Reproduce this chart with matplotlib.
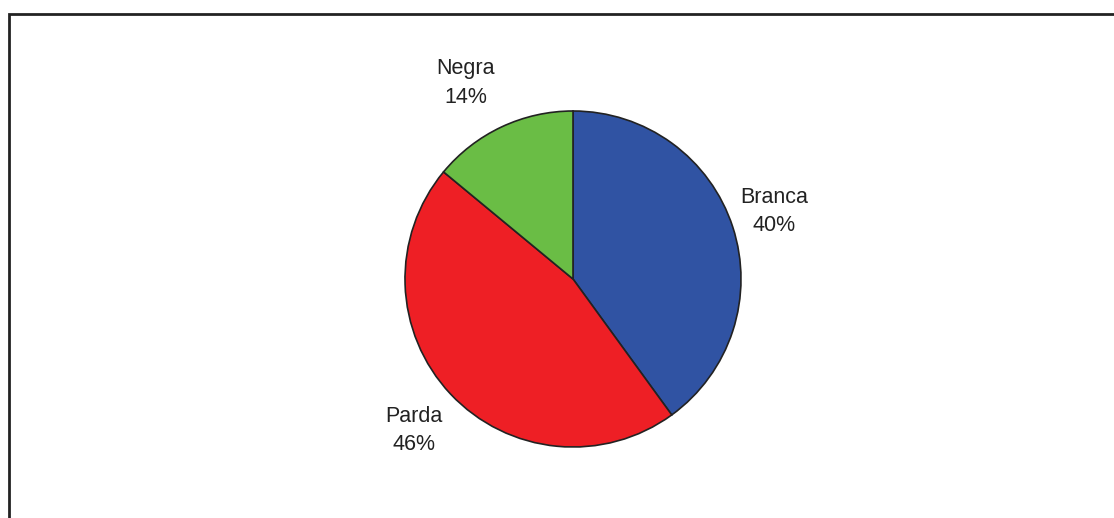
import matplotlib.pyplot as plt
from matplotlib.patches import Rectangle

plt.rcParams['font.family'] = ['Liberation Sans', 'DejaVu Sans']

categories = ["Branca", "Parda", "Negra"]
shares = [40, 46, 14]
colors = ["#3053A3", "#EE1F25", "#6ABD45"]

W, H = 1114, 518
fig = plt.figure(figsize=(W / 100, H / 100), dpi=100)

# outer frame (runs off the right and bottom edges)
fig.patches.append(Rectangle((9 / W, -0.1), 1.2, (H - 14) / H + 0.1,
                             transform=fig.transFigure, fill=False,
                             edgecolor="#222222", linewidth=2))

cx, cy, r = 573, 279, 168
ax = fig.add_axes([(cx - r) / W, (H - cy - r) / H, 2 * r / W, 2 * r / H])
ax.pie(shares, colors=colors, startangle=90, counterclock=False,
       wedgeprops=dict(edgecolor="#222222", linewidth=1.2))
ax.set_xlim(-1, 1)
ax.set_ylim(-1, 1)
ax.set_aspect("equal")

# label spots, in pie radius units
label_xy = [(1.196, 0.40), (-0.946, -0.90), (-0.637, 1.167)]
for name, val, (x, y) in zip(categories, shares, label_xy):
    ax.text(x, y, f"{name}\n{val}%", ha="center", va="center",
            fontsize=15.5, color="#222222", linespacing=1.45, clip_on=False)

fig.savefig("out.png", dpi=100)
